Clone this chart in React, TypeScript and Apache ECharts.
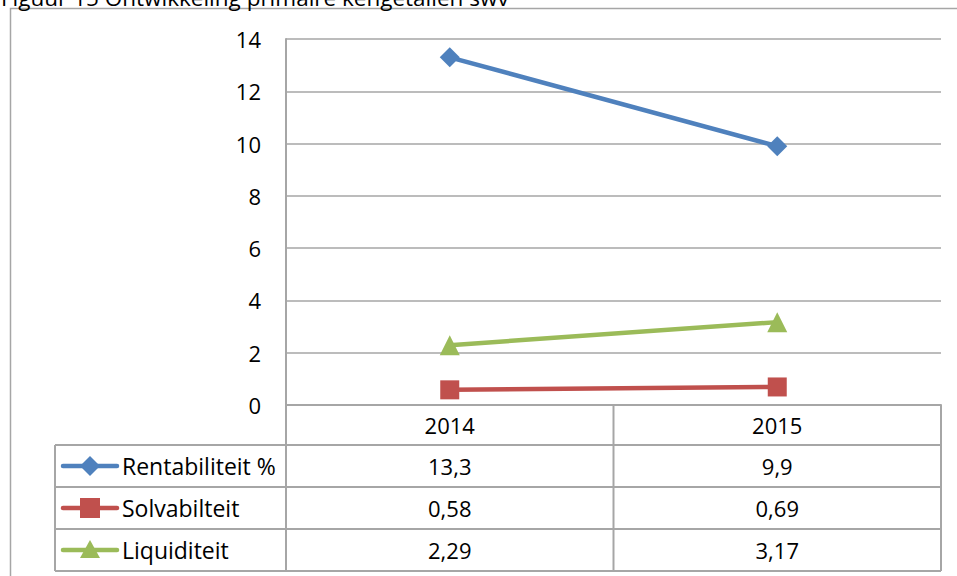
import React, { useEffect, useRef } from "react";
import * as echarts from "echarts";

const title = "Figuur 15 Ontwikkeling primaire kengetallen swv";
const years = ["2014", "2015"];
const seriesNames = ["Rentabiliteit %", "Solvabilteit", "Liquiditeit"];
const rentabiliteit = [13.3, 9.9];
const solvabiliteit = [0.58, 0.69];
const liquiditeit = [2.29, 3.17];
const yTicks = [0, 2, 4, 6, 8, 10, 12, 14];

const colors = ["#4F81BD", "#C0504D", "#9BBB59"];
const symbols = ["diamond", "rect", "triangle"];
const FONT = "'Open Sans', 'Noto Sans', sans-serif";
const GRID = "#A6A6A6";

export default function App() {
  const ref = useRef<HTMLDivElement>(null);
  useEffect(() => {
    if (!ref.current) return;
    const chart = echarts.init(ref.current, null, { renderer: "svg" });
    const W = 957;
    const plotL = 286;
    const plotR = 941;
    const plotT = 39;
    const plotB = 405;
    const headerB = 445;
    const rowH = 42;
    const legendL = 55;
    const colW = (plotR - plotL) / years.length;
    const allData = [rentabiliteit, solvabiliteit, liquiditeit];
    const fmt = (v: number) => String(v).replace(".", ",");

    const graphics: any[] = [];
    // title (cut off at top, as in the reference)
    graphics.push({
      type: "text",
      x: 1,
      y: -14,
      style: { text: title, font: `22.5px ${FONT}`, fill: "#000" },
    });
    // outer border
    graphics.push({
      type: "rect",
      shape: { x: 10.5, y: 8.5, width: 1000, height: 700 },
      style: { fill: "none", stroke: GRID, lineWidth: 1.5 },
      z: -1,
    });
    const line = (x1: number, y1: number, x2: number, y2: number) =>
      graphics.push({
        type: "line",
        shape: { x1, y1, x2, y2 },
        style: { stroke: GRID, lineWidth: 2 },
      });
    const tableB = headerB + rowH * seriesNames.length;
    line(plotL, headerB, plotR, headerB);
    line(plotR, plotB, plotR, tableB);
    line(plotL, plotT, plotL, tableB);
    for (let i = 1; i < years.length; i++) {
      line(plotL + colW * i, plotB, plotL + colW * i, tableB);
    }
    for (let r = 0; r <= seriesNames.length; r++) {
      line(legendL, headerB + rowH * r, plotR, headerB + rowH * r);
    }
    line(legendL, headerB, legendL, tableB);

    seriesNames.forEach((name, r) => {
      const cy = headerB + rowH * r + rowH / 2;
      graphics.push({
        type: "line",
        shape: { x1: 63, y1: cy, x2: 117, y2: cy },
        style: { stroke: colors[r], lineWidth: 4.5, lineCap: "round" },
      });
      if (symbols[r] === "diamond") {
        graphics.push({
          type: "polygon",
          shape: { points: [[90, cy - 10], [100, cy], [90, cy + 10], [80, cy]] },
          style: { fill: colors[r] },
        });
      } else if (symbols[r] === "rect") {
        graphics.push({
          type: "rect",
          shape: { x: 80, y: cy - 10, width: 20, height: 20 },
          style: { fill: colors[r] },
        });
      } else {
        graphics.push({
          type: "polygon",
          shape: { points: [[90, cy - 10], [100, cy + 8], [80, cy + 8]] },
          style: { fill: colors[r] },
        });
      }
      graphics.push({
        type: "text",
        x: 122,
        y: cy,
        style: {
          text: name,
          font: `23px ${FONT}`,
          fill: "#000",
          textVerticalAlign: "middle",
        },
      });
      years.forEach((_, c) => {
        graphics.push({
          type: "text",
          x: plotL + colW * c + colW / 2,
          y: cy,
          style: {
            text: fmt(allData[r][c]),
            font: `22px ${FONT}`,
            fill: "#000",
            textAlign: "center",
            textVerticalAlign: "middle",
          },
        });
      });
    });

    chart.setOption({
      animation: false,
      backgroundColor: "#fff",
      grid: {
        left: plotL,
        right: W - plotR,
        top: plotT,
        bottom: 576 - plotB,
        containLabel: false,
      },
      xAxis: {
        type: "category",
        data: years,
        boundaryGap: true,
        axisLine: { show: true, lineStyle: { color: GRID, width: 2 } },
        axisTick: { show: false },
        axisLabel: {
          margin: 9,
          color: "#000",
          fontSize: 22,
          fontFamily: FONT,
        },
      },
      yAxis: {
        type: "value",
        min: yTicks[0],
        max: yTicks[yTicks.length - 1],
        interval: 2,
        axisLine: { show: true, lineStyle: { color: GRID, width: 2 } },
        axisTick: { show: false },
        axisLabel: {
          margin: 25,
          color: "#000",
          fontSize: 22,
          fontFamily: FONT,
        },
        splitLine: { lineStyle: { color: GRID, width: 1.5 } },
      },
      series: seriesNames.map((name, i) => ({
        name,
        type: "line",
        data: allData[i],
        symbol: symbols[i],
        symbolSize: i === 1 ? 19 : 20,
        lineStyle: { color: colors[i], width: 4.5 },
        itemStyle: { color: colors[i] },
        z: 3 + i,
      })),
      graphic: graphics,
    });
    return () => chart.dispose();
  }, []);
  return (
    <div
      ref={ref}
      style={{ position: "fixed", left: 0, top: 0, width: 957, height: 576 }}
    />
  );
}
